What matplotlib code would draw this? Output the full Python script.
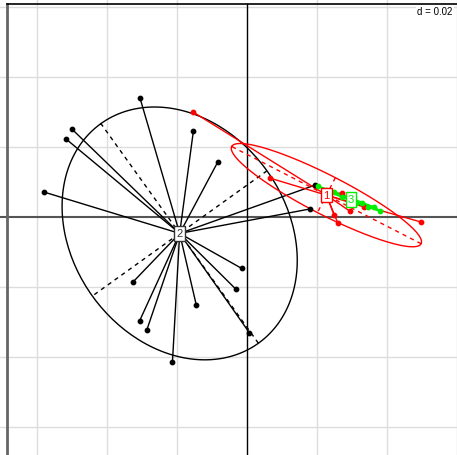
import numpy as np
import matplotlib
matplotlib.use('Agg')
import matplotlib.pyplot as plt

plt.rcParams['font.family'] = ['Liberation Sans', 'DejaVu Sans']

# scores of each group (d = 0.02 grid)
g1_x = [-0.0154, 0.0066, 0.0271, 0.0295, 0.0249, 0.0259, 0.0496, 0.0333]
g1_y = [0.0300, 0.0111, 0.0069, 0.0016, 0.0005, -0.0016, -0.0014, 0.0029]

g2_x = [-0.0306, -0.0500, -0.0516, -0.0579, -0.0153, -0.0083, -0.0015, -0.0031,
        -0.0325, -0.0145, -0.0307, -0.0286, 0.0007, -0.0213, 0.0194, 0.0180]
g2_y = [0.0341, 0.0251, 0.0222, 0.0071, 0.0247, 0.0158, -0.0147, -0.0207,
        -0.0185, -0.0251, -0.0297, -0.0322, -0.0331, -0.0414, 0.0091, 0.0023]

g3_x = [0.0203, 0.0226, 0.0249, 0.0271, 0.0294, 0.0311, 0.0329, 0.0346, 0.0363, 0.0380]
g3_y = [0.0089, 0.0077, 0.0071, 0.0057, 0.0054, 0.0040, 0.0040, 0.0029, 0.0029, 0.0017]

groups = [('2', g2_x, g2_y, 'black'),
          ('1', g1_x, g1_y, '#ff0000'),
          ('3', g3_x, g3_y, '#00ee00')]

grid_ticks = [-0.06, -0.04, -0.02, 0.02, 0.04, 0.06]

fig = plt.figure(figsize=(4.57, 4.56), dpi=100)
ax = fig.add_axes([0, 0, 1, 1])
ax.set_xlim(-0.07057, 0.06)
ax.set_ylim(-0.068, 0.06229)
ax.axis('off')

for t in grid_ticks:
    ax.axvline(t, color='#dddddd', lw=1, zorder=0)
    ax.axhline(t, color='#dddddd', lw=1, zorder=0)
ax.axhline(0, color='#555555', lw=1.5, zorder=1)
ax.axvline(0, color='black', lw=1, zorder=1, ymax=0.989)
ax.axvline(-0.0686, color='#666666', lw=2, zorder=1, ymax=0.989)
ax.axhline(0.0609, xmin=0.015, color='black', lw=1.2, zorder=1)

labels = []
for name, xs, ys, col in groups:
    xs = np.array(xs)
    ys = np.array(ys)
    cx, cy = xs.mean(), ys.mean()
    for x, y in zip(xs, ys):
        ax.plot([cx, x], [cy, y], color=col, lw=1, zorder=2)
    ax.scatter(xs, ys, s=10, color=col, zorder=3)
    cov = np.cov(np.vstack([xs, ys]), bias=True)
    vals, vecs = np.linalg.eigh(cov)
    t = np.linspace(0, 2 * np.pi, 200)
    a = 1.5 * np.sqrt(vals[1])
    b = 1.5 * np.sqrt(vals[0])
    v1 = vecs[:, 1]
    v2 = vecs[:, 0]
    ex = cx + a * np.cos(t) * v1[0] + b * np.sin(t) * v2[0]
    ey = cy + a * np.cos(t) * v1[1] + b * np.sin(t) * v2[1]
    ax.plot(ex, ey, color=col, lw=1, zorder=2)
    for v, r in ((v1, a), (v2, b)):
        ax.plot([cx - r * v[0], cx + r * v[0]], [cy - r * v[1], cy + r * v[1]],
                color=col, lw=1, ls=(0, (3, 3)), zorder=2)
    labels.append((name, cx, cy, col))

for name, cx, cy, col in labels:
    tc = '#333333' if col == 'black' else col
    ax.text(cx, cy, name, ha='center', va='center', fontsize=8, color=tc, zorder=5,
            bbox=dict(boxstyle='square,pad=0.2', fc='white', ec=tc, lw=1))

ax.text(0.0588, 0.0588, 'd = 0.02', ha='right', va='center', fontsize=7, zorder=5,
        bbox=dict(boxstyle='square,pad=0.1', fc='white', ec='none'))

fig.savefig('out.png', dpi=100)
